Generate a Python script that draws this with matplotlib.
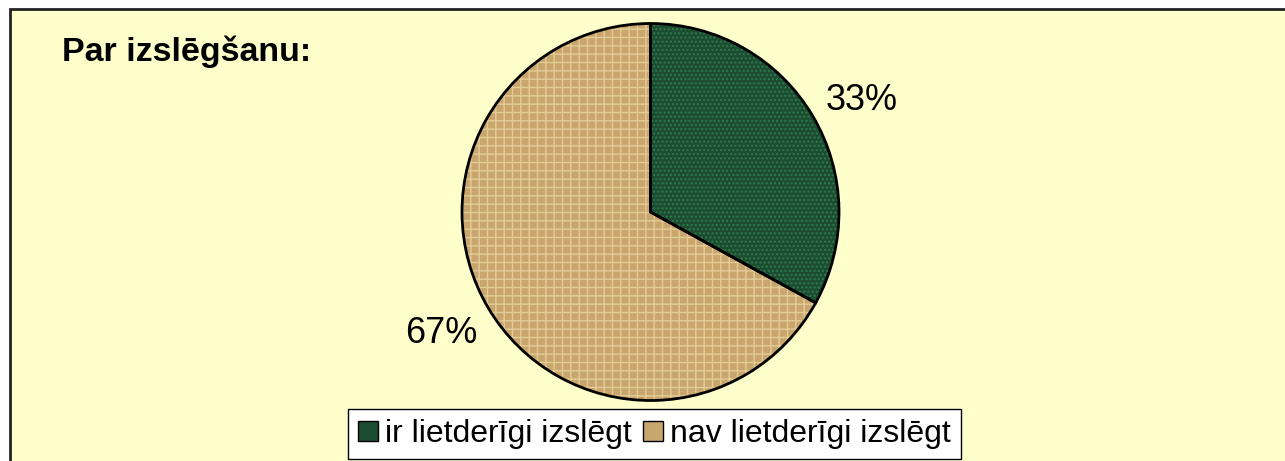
import matplotlib
matplotlib.use("Agg")
import matplotlib.pyplot as plt
from matplotlib.patches import Rectangle
from matplotlib.lines import Line2D

plt.rcParams['font.family'] = ['Liberation Sans', 'DejaVu Sans']

title = "Par izslēgšanu:"
categories = ["ir lietderīgi izslēgt", "nav lietderīgi izslēgt"]
values = [33, 67]
colors = ["#1c4d30", "#c9a66e"]

W, H = 1285, 461
fig = plt.figure(figsize=(W / 100, H / 100), dpi=100)
fig.patch.set_facecolor("white")

# outer frame (extends beyond right/bottom edges)
fig.patches.append(Rectangle((10 / W, -0.1), 1.2, (H - 8.5) / H + 0.1,
                             transform=fig.transFigure, facecolor="#FFFFCC",
                             edgecolor="#222222", linewidth=2, zorder=-5))

# pie axes: center (650.5, 212), radius 188.5
cx, cy, r = 650.5, 212, 188.5
ax = fig.add_axes([(cx - r) / W, (H - cy - r) / H, 2 * r / W, 2 * r / H])
ax.set_zorder(1)
ax.set_facecolor("none")
wedges, _ = ax.pie(values, colors=colors, startangle=90, counterclock=False,
                   wedgeprops=dict(linewidth=0))
wedges[0].set_hatch("....")
wedges[0].set_edgecolor("#2f7a4f")
wedges[1].set_hatch("++")
wedges[1].set_edgecolor("#e3cb96")
for w in wedges:
    w.set_linewidth(0)
ax.pie(values, colors=["none", "none"], startangle=90, counterclock=False,
       wedgeprops=dict(edgecolor="black", linewidth=2, fill=False))
ax.set_xlim(-1, 1)
ax.set_ylim(-1, 1)
ax.set_aspect("equal")

# percentage labels
fig.text(862 / W, 1 - 100 / H, f"{values[0]}%", fontsize=26, ha="center", va="center", zorder=3)
fig.text(441 / W, 1 - 333 / H, f"{values[1]}%", fontsize=26, ha="center", va="center", zorder=3)

# title
fig.text(62 / W, 1 - 52 / H, title, fontsize=24.5, fontweight="bold", ha="left", va="center", zorder=3)

# legend
handles = [Line2D([], [], marker="s", linestyle="none", markersize=14,
                  markerfacecolor=c, markeredgecolor="black", markeredgewidth=1)
           for c in colors]
leg = fig.legend(handles, categories, loc="center", bbox_to_anchor=(654.5 / W, 1 - 434 / H),
                 ncol=2, fontsize=23, frameon=True, fancybox=False, edgecolor="black",
                 facecolor="white", framealpha=1, handletextpad=0.25, columnspacing=0.35,
                 handlelength=0.6, borderpad=0.3)
leg.get_frame().set_linewidth(1)
leg.set_zorder(4)

fig.savefig("out.png", dpi=100)
